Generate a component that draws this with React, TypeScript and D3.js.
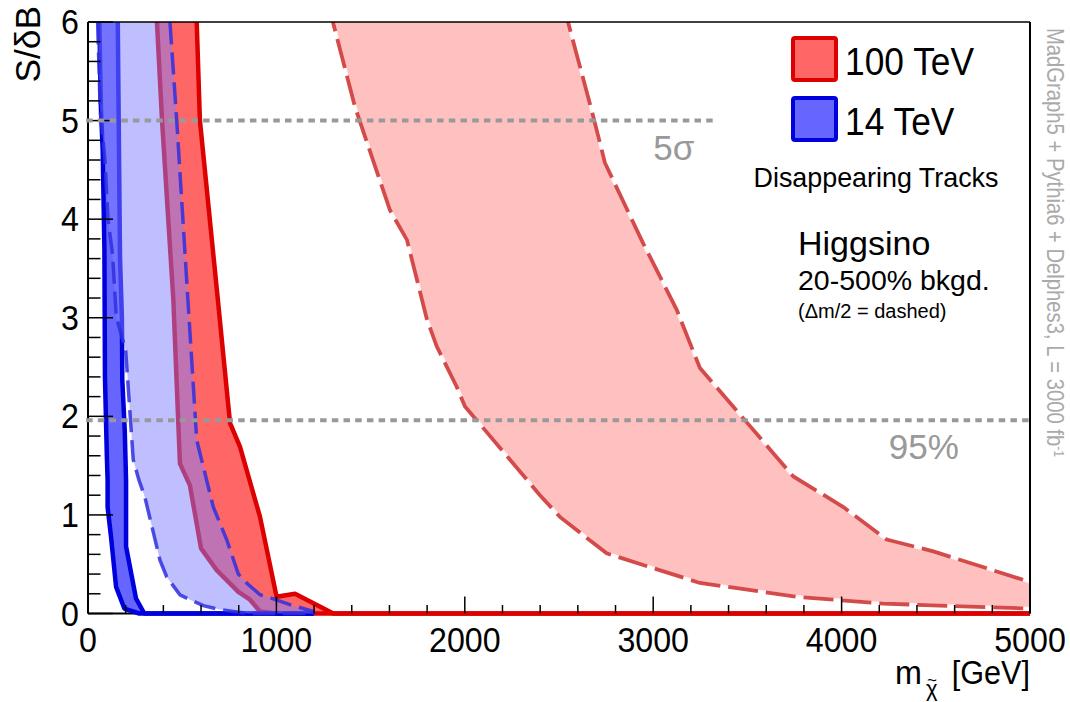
import React from "react";
import * as d3 from "d3";

type P = [number, number];

// ---- axis ticks ----
const xMajor = [0, 1000, 2000, 3000, 4000, 5000];
const xTickLabels = ["0", "1000", "2000", "3000", "4000", "5000"];
const yMajor = [0, 1, 2, 3, 4, 5, 6];
const yTickLabels = ["0", "1", "2", "3", "4", "5", "6"];

// ---- 100 TeV, dashed (Δm/2) band ----
const red100DashLower: P[] = [[1270, 6.2], [1300, 6.0], [1417, 5.14], [1603, 4.09], [1693, 3.79], [1798, 2.99], [1851, 2.71], [1957, 2.3], [2001, 2.1], [2240, 1.56], [2399, 1.2], [2505, 0.98], [2753, 0.61], [3248, 0.31], [3762, 0.17], [4221, 0.1], [5000, 0.05]];
const red100DashUpper: P[] = [[2530, 6.2], [2548, 6.0], [2682, 5.04], [2744, 4.57], [2948, 3.75], [3125, 3.08], [3248, 2.49], [3744, 1.39], [4009, 1.08], [4239, 0.75], [4487, 0.63], [5000, 0.32]];

// ---- 100 TeV, solid band ----
const red100Lower: P[] = [[355, 6.3], [366, 6.0], [393, 5.0], [453, 3.18], [488, 1.52], [541, 1.3], [600, 0.66], [683, 0.44], [798, 0.22], [860, 0.14], [913, 0.02], [1000, 0], [5000, 0]];
const red100Upper: P[] = [[570, 6.3], [577, 6.0], [594, 5.0], [692, 3.13], [754, 1.93], [807, 1.69], [913, 0.98], [1001, 0.17], [1099, 0.2], [1302, 0], [5000, 0]];

// ---- 14 TeV, solid band ----
const blue14Lower: P[] = [[57, 6.3], [60, 6.0], [69, 5.1], [78, 4.7], [87, 3.7], [90, 2.4], [100, 1.6], [104, 1.35], [104, 1.08], [122, 0.78], [149, 0.27], [193, 0.05], [272, 0], [1200, 0]];
const blue14Upper: P[] = [[155, 6.3], [158, 6.0], [170, 3.6], [180, 3.0], [182, 2.37], [195, 1.86], [202, 1.35], [202, 0.68], [255, 0.15], [299, 0], [1200, 0]];

// ---- 14 TeV, dashed (Δm/2) band ----
const blue14DashLower: P[] = [[48, 6.3], [51, 6.0], [65, 5.1], [90, 4.6], [106, 4.0], [130, 3.65], [150, 3.01], [200, 2.67], [240, 1.56], [271, 1.35], [302, 1.18], [382, 0.54], [418, 0.37], [488, 0.19], [541, 0.14], [612, 0.08], [700, 0.04], [771, 0.02], [850, 0], [1200, 0]];
const blue14DashUpper: P[] = [[428, 6.3], [435, 6.0], [471, 5.0], [532, 3.13], [577, 1.76], [612, 1.49], [665, 1.08], [736, 0.75], [798, 0.4], [842, 0.31], [913, 0.19], [966, 0.16], [1072, 0.09], [1196, 0.02], [1200, 0]];

// ---- reference lines ----
const refLines = [
  { y: 5, x0: -10, x1: 3340, label: "5σ", lx: 3000, ly: 4.6 },
  { y: 1.96, x0: -10, x1: 5000, label: "95%", lx: 4250, ly: 1.57 },
];

const legendItems = [
  { label: "100 TeV", fill: "#ff6666", stroke: "#dd0000" },
  { label: "14 TeV", fill: "#6666ff", stroke: "#0000dd" },
];

const FONT = "'Liberation Sans', Arial, Helvetica, sans-serif";

function T({ x, y, size, sx = 1, anchor = "start", fill = "#000", rotate = 0, children }: any) {
  return (
    <text
      transform={`translate(${x},${y}) rotate(${rotate}) scale(${sx},1)`}
      fontSize={size}
      fontFamily={FONT}
      textAnchor={anchor}
      fill={fill}
    >
      {children}
    </text>
  );
}

export default function App() {
  const W = 1070;
  const H = 702;
  const x = d3.scaleLinear().domain([0, 5000]).range([88, 1030]);
  const y = d3.scaleLinear().domain([0, 6]).range([613.5, 22]);
  const line = d3.line<P>().x((d) => x(d[0])).y((d) => y(d[1]));
  const band = (lo: P[], hi: P[]) => (line([...lo, ...hi.slice().reverse()]) || "") + "Z";

  const xMinor = d3.range(0, 5001, 200).filter((v) => v % 1000 !== 0);
  const yMinor = d3.range(0, 6.001, 0.2).map((v) => +v.toFixed(1)).filter((v) => Math.abs(v - Math.round(v)) > 1e-6);

  const x0 = x(0), x1 = x(5000), y0 = y(0), y1 = y(6);

  return (
    <svg width={W} height={H} style={{ position: "absolute", left: 0, top: 0, background: "#fff" }}>
      <defs>
        <clipPath id="plot">
          <rect x={x0} y={y1} width={x1 - x0} height={y0 - y1 + 5} />
        </clipPath>
      </defs>
      <rect x={0} y={0} width={W} height={H} fill="#fff" />

      {/* left & bottom axis lines */}
      <line x1={x0} y1={y1} x2={x0} y2={y0} stroke="#000" strokeWidth={2} />
      <line x1={x0} y1={y0} x2={x1} y2={y0} stroke="#000" strokeWidth={2} />

      <g clipPath="url(#plot)">
        {/* 100 TeV dashed band */}
        <path d={band(red100DashLower, red100DashUpper)} fill="#ffc0c0" />
        {[red100DashLower, red100DashUpper].map((c, i) => (
          <g key={"rd" + i}>
            <path d={line(c) || ""} fill="none" stroke="#fff" strokeWidth={3.5} opacity={0.8} />
            <path d={line(c) || ""} fill="none" stroke="#cc2c2c" strokeWidth={3.8} strokeDasharray="30 8" opacity={0.85} />
          </g>
        ))}

        {/* 100 TeV solid band */}
        <path d={band(red100Lower, red100Upper)} fill="#ff6666" />
        {[red100Lower, red100Upper].map((c, i) => (
          <path key={"rs" + i} d={line(c) || ""} fill="none" stroke="#dd0000" strokeWidth={4.5} strokeLinejoin="round" />
        ))}

        {/* 14 TeV solid band */}
        <path d={band(blue14Lower, blue14Upper)} fill="#6666ff" />
        {[blue14Lower, blue14Upper].map((c, i) => (
          <path key={"bs" + i} d={line(c) || ""} fill="none" stroke="#0000dd" strokeWidth={4.5} strokeLinejoin="round" />
        ))}

        {/* 14 TeV dashed band (translucent) */}
        <path d={band(blue14DashLower, blue14DashUpper)} fill="#8080ff" opacity={0.5} />
        {[blue14DashLower, blue14DashUpper].map((c, i) => (
          <path key={"bd" + i} d={line(c) || ""} fill="none" stroke="#2f2fe0" strokeWidth={3.5} strokeDasharray="22 8" opacity={0.85} />
        ))}
      </g>

      {/* ticks */}
      {xMajor.map((v) => (
        <line key={"xM" + v} x1={x(v)} x2={x(v)} y1={y0} y2={y0 - 17} stroke="#000" strokeWidth={1.5} />
      ))}
      {xMinor.map((v) => (
        <line key={"xm" + v} x1={x(v)} x2={x(v)} y1={y0} y2={y0 - 8.5} stroke="#000" strokeWidth={1.5} />
      ))}
      {yMajor.map((v) => (
        <line key={"yM" + v} x1={x0} x2={x0 + 25} y1={y(v)} y2={y(v)} stroke="#000" strokeWidth={1.5} />
      ))}
      {yMinor.map((v) => (
        <line key={"ym" + v} x1={x0} x2={x0 + 12.5} y1={y(v)} y2={y(v)} stroke="#000" strokeWidth={1.5} />
      ))}

      {/* top & right frame */}
      <line x1={x0} y1={y1} x2={x1} y2={y1} stroke="#000" strokeWidth={1.5} />
      <line x1={x1} y1={y1} x2={x1} y2={y0} stroke="#000" strokeWidth={2} />

      {/* reference lines */}
      {refLines.map((r) => (
        <g key={r.label}>
          <line x1={x(r.x0)} x2={x(r.x1)} y1={y(r.y)} y2={y(r.y)} stroke="#999" strokeWidth={4} strokeDasharray="6.5 5.2" />
          <T x={x(r.lx)} y={y(r.ly)} size={35} fill="#999">{r.label}</T>
        </g>
      ))}

      {/* tick labels */}
      {xMajor.map((v, i) => (
        <T key={"xl" + v} x={x(v)} y={652} size={35} sx={0.92} anchor="middle">{xTickLabels[i]}</T>
      ))}
      {yMajor.map((v, i) => (
        <T key={"yl" + v} x={79} y={y(v) + 12} size={35} sx={0.92} anchor="end">{yTickLabels[i]}</T>
      ))}

      {/* axis titles */}
      <T x={40} y={6} size={36} sx={0.98} anchor="end" rotate={-90}>S/δB</T>
      <T x={895} y={684} size={34} sx={0.95}>m</T>
      <T x={926} y={696} size={22}>χ</T>
      <T x={927} y={686} size={17}>~</T>
      <T x={1030} y={684} size={34} sx={0.9} anchor="end">[GeV]</T>

      {/* legend */}
      {legendItems.map((it, i) => (
        <g key={it.label}>
          <rect x={793} y={38 + i * 60} width={43} height={42} rx={2} fill={it.fill} stroke={it.stroke} strokeWidth={4} />
          <T x={845} y={75 + i * 60} size={38} sx={0.93}>{it.label}</T>
        </g>
      ))}
      <T x={876} y={187} size={28} sx={0.96} anchor="middle">Disappearing Tracks</T>
      <T x={798} y={255} size={34} sx={1}>Higgsino</T>
      <T x={798} y={290} size={28.5} sx={1}>20-500% bkgd.</T>
      <T x={798} y={318} size={20}>(Δm/2 = dashed)</T>

      {/* right-hand annotation */}
      <text transform="translate(1047,28) rotate(90) scale(0.88,1)" fontFamily={FONT} fontSize={23} fill="#aaa">
        MadGraph5 + Pythia6 + Delphes3, L = 3000 fb<tspan fontSize={14} dy={-7}>-1</tspan>
      </text>
    </svg>
  );
}
